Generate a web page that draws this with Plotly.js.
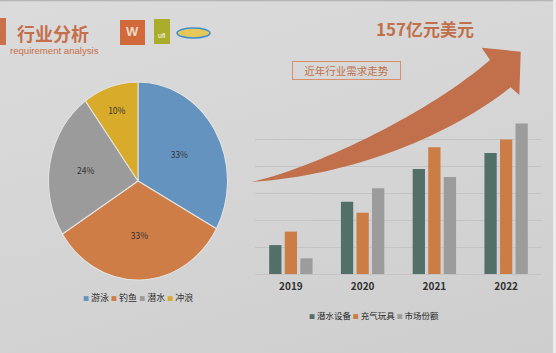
<!DOCTYPE html>
<html>
<head>
<meta charset="utf-8">
<script src="https://cdn.plot.ly/plotly-3.0.1.min.js"></script>
<style>
  html, body { margin:0; padding:0; }
  body { width:556px; height:353px; overflow:hidden; position:relative;
         background: linear-gradient(165deg, #dbdbdb 0%, #d5d5d5 50%, #cecece 100%); }
  #main, #pie { position:absolute; left:0; top:0; width:556px; height:353px; }
  #pie { transform: scaleY(1.106); transform-origin: 138px 181px; }
</style>
</head>
<body>
<div id="main"></div>
<div id="pie"></div>
<script>
// ---- data ----
const categories = ['2019', '2020', '2021', '2022'];
const seriesNames = ['潜水设备', '充气玩具', '市场份额'];
const diveGear = [1.07, 2.68, 3.89, 4.48];
const inflatableToys = [1.57, 2.27, 4.69, 4.98];
const marketShare = [0.58, 3.18, 3.59, 5.57];
const pieLabels = ['游泳', '钓鱼', '潜水', '冲浪'];
const pieValues = [33, 33, 24, 10];
const headline = '157亿元美元';
const trendTitle = '近年行业需求走势';
const pageTitle = '行业分析';
const pageSubtitle = 'requirement analysis';

// ---- styles ----
const barColors = ['#536f69', '#cc7c45', '#9c9c9c'];
const pieColors = ['#6593bf', '#cd7d45', '#9b9b9b', '#d9ab2a'];
const accent = '#c1704b';
const CJK = '"Noto Sans CJK SC", "Noto Sans", sans-serif';

const W = 556, H = 353;
const PL = 255, PR = 542, PT = 112, PB = 274;
const X = p => (p - PL) / (PR - PL);
const Y = p => (PB - p) / (PB - PT);

const seriesData = [diveGear, inflatableToys, marketShare];
const traces = seriesNames.map((n, i) => ({
  type: 'bar', name: n, x: categories, y: seriesData[i],
  marker: { color: barColors[i] }, hoverinfo: 'skip'
}));

function legendText(names, colors) {
  return names.map((n, i) =>
    `<span style="color:${colors[i]};font-size:6px">■</span> ${n}`).join(' ');
}

// arrow path (pixel coords -> paper)
function pt(x, y) { return X(x).toFixed(4) + ',' + Y(y).toFixed(4); }
const arrowPath =
  'M' + pt(252, 182) +
  ' C' + pt(320, 166) + ' ' + pt(430, 112) + ' ' + pt(490, 60) +
  ' L' + pt(481.7, 47.7) +
  ' L' + pt(520.7, 51.7) +
  ' L' + pt(519.3, 95) +
  ' L' + pt(510.7, 87.3) +
  ' C' + pt(450, 136) + ' ' + pt(350, 176) + ' ' + pt(252, 182) + ' Z';

const shapes = [
  { type: 'line', xref: 'paper', yref: 'paper', x0: X(0), x1: X(553), y0: Y(0.5), y1: Y(0.5),
    line: { color: '#b5b5b5', width: 1.5 } },
  { type: 'rect', xref: 'paper', yref: 'paper', x0: X(553), x1: X(556), y0: Y(0), y1: Y(353),
    fillcolor: '#ececec', line: { width: 0 } },
  { type: 'rect', xref: 'paper', yref: 'paper', x0: X(0), x1: X(6), y0: Y(18), y1: Y(45),
    fillcolor: '#c8714a', line: { width: 0 } },
  { type: 'rect', xref: 'paper', yref: 'paper', x0: X(120), x1: X(145), y0: Y(20), y1: Y(45),
    fillcolor: '#d2693a', line: { width: 0 } },
  { type: 'rect', xref: 'paper', yref: 'paper', x0: X(154), x1: X(170), y0: Y(19), y1: Y(44),
    fillcolor: '#a9ad2b', line: { width: 0 } },
  { type: 'circle', xref: 'paper', yref: 'paper', x0: X(177), x1: X(210), y0: Y(28), y1: Y(38),
    fillcolor: '#e6c85a', line: { color: '#3d8fd0', width: 1.5 } },
  { type: 'path', xref: 'paper', yref: 'paper', path: arrowPath,
    fillcolor: accent, line: { width: 0 } }
];

const annotations = [
  { xref: 'paper', yref: 'paper', x: X(15), y: Y(33), xanchor: 'left', yanchor: 'middle',
    text: '<b>' + pageTitle + '</b>', showarrow: false,
    font: { family: CJK, size: 18, color: '#c5704b' } },
  { xref: 'paper', yref: 'paper', x: X(8), y: Y(50), xanchor: 'left', yanchor: 'middle',
    text: pageSubtitle, showarrow: false,
    font: { family: '"Liberation Sans", Arial, sans-serif', size: 9.6, color: '#c8714a' } },
  { xref: 'paper', yref: 'paper', x: X(132.5), y: Y(31), xanchor: 'center', yanchor: 'middle',
    text: '<b>W</b>', showarrow: false,
    font: { family: '"Liberation Sans", Arial, sans-serif', size: 13, color: '#f3d9c8' } },
  { xref: 'paper', yref: 'paper', x: X(162), y: Y(35), xanchor: 'center', yanchor: 'middle',
    text: 'ufi', showarrow: false,
    font: { family: '"Liberation Sans", Arial, sans-serif', size: 7, color: '#ffffff' } },
  { xref: 'paper', yref: 'paper', x: X(425), y: Y(29), xanchor: 'center', yanchor: 'middle',
    text: '<b>' + headline + '</b>', showarrow: false,
    font: { family: CJK, size: 17, color: accent } },
  { xref: 'paper', yref: 'paper', x: X(346), y: Y(70.5), xanchor: 'center', yanchor: 'middle',
    text: trendTitle, showarrow: false, width: 105, height: 15,
    bordercolor: '#d8906c', borderwidth: 1, borderpad: 1,
    font: { family: CJK, size: 10.5, color: accent } },
  { xref: 'paper', yref: 'paper', x: X(138), y: Y(297), xanchor: 'center', yanchor: 'middle',
    text: legendText(pieLabels, pieColors), showarrow: false,
    font: { family: CJK, size: 9, color: '#333333' } },
  { xref: 'paper', yref: 'paper', x: X(374), y: Y(315), xanchor: 'center', yanchor: 'middle',
    text: legendText(seriesNames, barColors), showarrow: false,
    font: { family: CJK, size: 8.5, color: '#262626' } }
];

const layout = {
  width: W, height: H,
  margin: { l: PL, r: W - PR, t: PT, b: H - PB, pad: 0 },
  paper_bgcolor: 'rgba(0,0,0,0)', plot_bgcolor: 'rgba(0,0,0,0)',
  showlegend: false,
  barmode: 'group', bargap: 0.35, bargroupgap: 0.21,
  xaxis: { type: 'category', showgrid: false, showline: false, zeroline: false, ticks: '',
    ticklabelstandoff: 5,
    tickfont: { family: CJK, size: 10, color: '#333333', weight: 'bold' } },
  yaxis: { range: [0, 6], dtick: 1, showticklabels: false, ticks: '',
    gridcolor: '#c4c4c4', gridwidth: 1, zeroline: true, zerolinecolor: '#c4c4c4', zerolinewidth: 1,
    showline: false },
  shapes: shapes,
  annotations: annotations
};

Plotly.newPlot('main', traces, layout, { staticPlot: true, displayModeBar: false });

// ---- pie ----
const cx = 138, cy = 181, r = 89.5;
const pieTrace = {
  type: 'pie', labels: pieLabels, values: pieValues,
  marker: { colors: pieColors, line: { color: '#e4e4e4', width: 1 } },
  sort: false, direction: 'clockwise', rotation: 0,
  textinfo: 'percent', textposition: 'inside', insidetextorientation: 'horizontal',
  textfont: { family: CJK, size: 8.5, color: '#333333' },
  domain: { x: [(cx - r) / W, (cx + r) / W], y: [(H - cy - r) / H, (H - cy + r) / H] },
  hoverinfo: 'skip'
};
Plotly.newPlot('pie', [pieTrace], {
  width: W, height: H, margin: { l: 0, r: 0, t: 0, b: 0, pad: 0 },
  paper_bgcolor: 'rgba(0,0,0,0)', plot_bgcolor: 'rgba(0,0,0,0)', showlegend: false
}, { staticPlot: true, displayModeBar: false });
</script>
</body>
</html>
